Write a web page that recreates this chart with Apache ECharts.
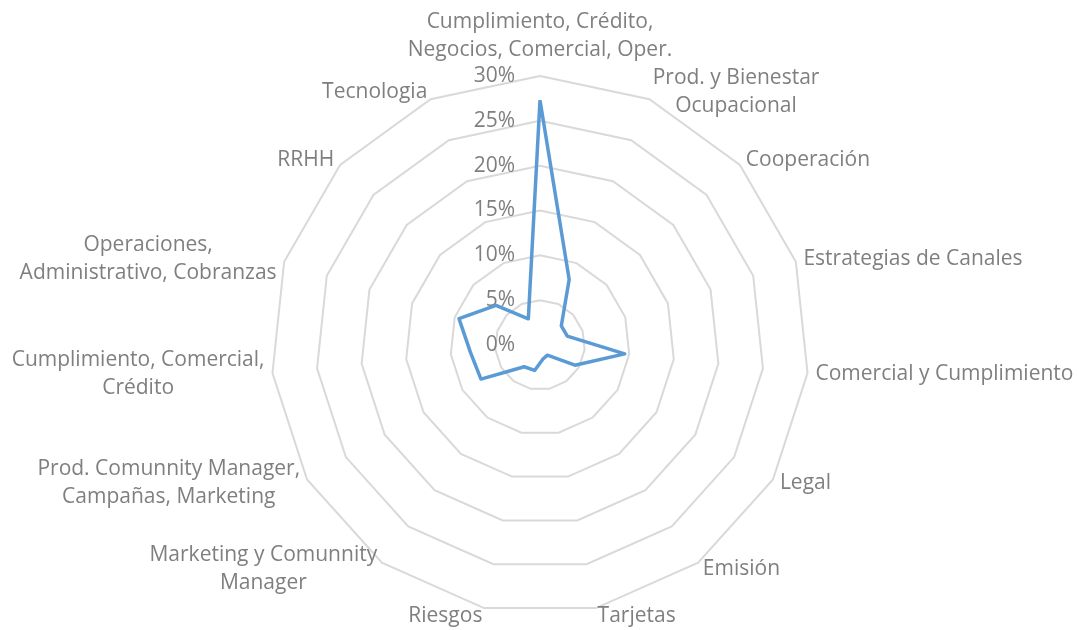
<!DOCTYPE html>
<html>
<head>
<meta charset="utf-8">
<script src="https://cdn.jsdelivr.net/npm/echarts@6/dist/echarts.min.js"></script>
<style>
html,body{margin:0;padding:0;background:#ffffff;}
#chart{width:1079px;height:630px;}
</style>
</head>
<body>
<div id="chart"></div>
<script>
// Categories (clockwise from top)
const categories = [
  'Cumplimiento, Crédito,\nNegocios, Comercial, Oper.',
  'Prod. y Bienestar\nOcupacional',
  'Cooperación',
  'Estrategias de Canales',
  'Comercial y Cumplimiento',
  'Legal',
  'Emisión',
  'Tarjetas',
  'Riesgos',
  'Marketing y Comunnity\nManager',
  'Prod. Comunnity Manager,\nCampañas, Marketing',
  'Cumplimiento, Comercial,\nCrédito',
  'Operaciones,\nAdministrativo, Cobranzas',
  'RRHH',
  'Tecnologia'
];
// Values in percent (same order as categories)
const values = [27.3, 8.0, 3.2, 3.2, 9.5, 4.5, 1.4, 1.6, 2.9, 3.0, 7.6, 7.8, 9.5, 6.6, 3.2];
// Scale ticks (percent)
const tickMin = 0;
const tickMax = 30;
const tickStep = 5;

const textColor = '#7f7f7f';
const font = 'Open Sans';

// ECharts lays indicators counter-clockwise; reorder so the categories run clockwise
const n = categories.length;
const order = categories.map(function (_, k) { return (n - k) % n; });

const chart = echarts.init(document.getElementById('chart'));
chart.setOption({
  animation: false,
  backgroundColor: '#ffffff',
  radar: {
    center: [540, 345],
    radius: 269,
    startAngle: 90,
    shape: 'polygon',
    splitNumber: (tickMax - tickMin) / tickStep,
    nameGap: 8,
    axisName: {
      color: textColor,
      fontSize: 21,
      fontFamily: font,
      formatter: function (name) { return '{a|' + name + '}'; },
      rich: {
        a: { align: 'center', color: textColor, fontSize: 21, fontFamily: font, lineHeight: 28 }
      }
    },
    splitLine: { lineStyle: { color: '#d9d9d9', width: 2 } },
    splitArea: { show: false },
    axisLine: { show: false },
    axisTick: { show: false },
    axisLabel: {
      show: false,
      color: textColor,
      fontSize: 21,
      fontFamily: font,
      margin: 25
    },
    indicator: order.map(function (idx) {
      const ind = { name: categories[idx], min: tickMin, max: tickMax };
      if (idx === 0) {
        ind.nameGap = 12;
        ind.axisLabel = {
          show: true,
          showMinLabel: true,
          color: textColor,
          fontSize: 21,
          fontFamily: font,
          margin: 25,
          formatter: function (v) { return Math.round(v) + '%'; }
        };
      }
      return ind;
    })
  },
  series: [{
    type: 'radar',
    symbol: 'none',
    lineStyle: { color: '#5b9bd5', width: 3.5, join: 'round' },
    itemStyle: { color: '#5b9bd5' },
    data: [{ value: order.map(function (idx) { return values[idx]; }) }]
  }]
});
</script>
</body>
</html>
